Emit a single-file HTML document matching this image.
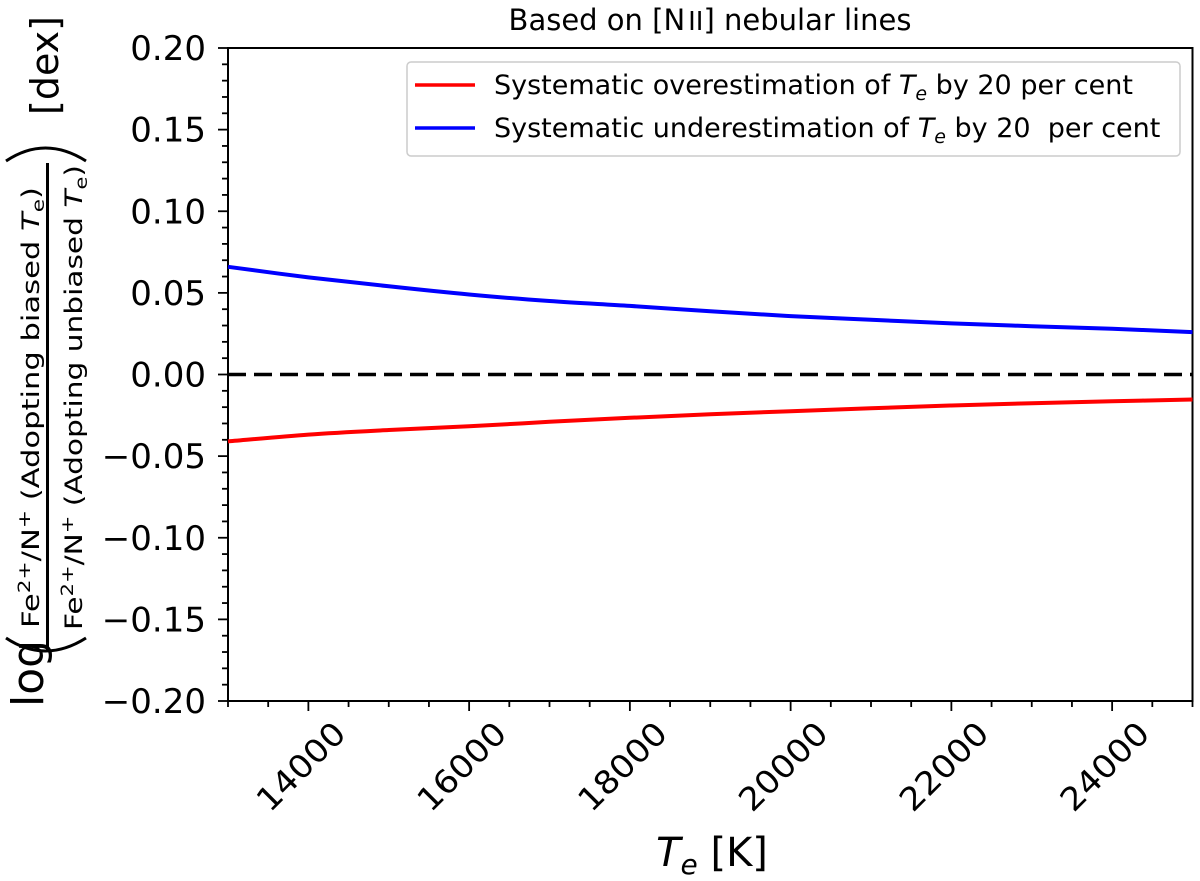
<!DOCTYPE html>
<html><head><meta charset="utf-8"><style>
html,body{margin:0;padding:0;background:#fff}
svg{display:block;font-family:"DejaVu Sans","Liberation Sans",sans-serif}
</style></head><body>
<svg id="chart" width="1200" height="881" viewBox="0 0 1200 881" xmlns="http://www.w3.org/2000/svg">
<g id="axes"></g>
<g id="series"></g>
<text x="710" y="30" font-size="29" text-anchor="middle">Based on [N<tspan font-size="26" dx="3">II</tspan>] nebular lines</text>
<text x="712" y="866" font-size="40" text-anchor="middle"><tspan font-style="italic">T</tspan><tspan font-style="italic" font-size="28" dy="8">e</tspan><tspan dy="-8"> [K]</tspan></text>
<g transform="translate(0,881) rotate(-90)">
  <text x="174" y="43" font-size="44">log</text>
  <path d="M243,6 Q217,45 243,86" fill="none" stroke="#000" stroke-width="3"/>
  <text x="253" y="39" font-size="24" textLength="441" lengthAdjust="spacingAndGlyphs">Fe<tspan font-size="17" dy="-9">2+</tspan><tspan dy="9">/N</tspan><tspan font-size="17" dy="-9">+</tspan><tspan dy="9"> (Adopting biased </tspan><tspan font-style="italic">T</tspan><tspan font-size="17" dy="5">e</tspan><tspan dy="-5">)</tspan></text>
  <line x1="231" y1="47.5" x2="718" y2="47.5" stroke="#000" stroke-width="3"/>
  <text x="251" y="82" font-size="24" textLength="465" lengthAdjust="spacingAndGlyphs">Fe<tspan font-size="17" dy="-9">2+</tspan><tspan dy="9">/N</tspan><tspan font-size="17" dy="-9">+</tspan><tspan dy="9"> (Adopting unbiased </tspan><tspan font-style="italic">T</tspan><tspan font-size="17" dy="5">e</tspan><tspan dy="-5">)</tspan></text>
  <path d="M720,6 Q746,45 720,86" fill="none" stroke="#000" stroke-width="3"/>
  <text x="766" y="58" font-size="38">[dex]</text>
</g>
<g>
  <rect x="407" y="62" width="773" height="94" rx="4" fill="#fff" stroke="#ccc" stroke-width="1.5"/>
  <line x1="415" y1="85" x2="475" y2="85" stroke="#ff0000" stroke-width="3.5"/>
  <text x="494" y="94" font-size="27">Systematic overestimation of <tspan font-style="italic">T</tspan><tspan font-style="italic" font-size="19" dy="6">e</tspan><tspan dy="-6"> by 20 per cent</tspan></text>
  <line x1="415" y1="128" x2="475" y2="128" stroke="#0000ff" stroke-width="3.5"/>
  <text x="494" y="137" font-size="27">Systematic underestimation of <tspan font-style="italic">T</tspan><tspan font-style="italic" font-size="19" dy="6">e</tspan><tspan dy="-6"> by 20&#160; per cent</tspan></text>
</g>
</svg>
<script>
const temps = [13000, 14000, 15000, 16000, 17000, 18000, 19000, 20000, 21000, 22000, 23000, 24000, 25000];
const overValues = [-0.041, -0.0368, -0.034, -0.0317, -0.029, -0.0265, -0.0244, -0.0225, -0.0207, -0.019, -0.0176, -0.0164, -0.0153];
const underValues = [0.066, 0.0595, 0.054, 0.049, 0.045, 0.042, 0.0387, 0.0358, 0.0335, 0.0313, 0.0296, 0.028, 0.026];
const xTicks = [14000, 16000, 18000, 20000, 22000, 24000];
const yTicks = [-0.20, -0.15, -0.10, -0.05, 0.00, 0.05, 0.10, 0.15, 0.20];
const xMin = 13000, xMax = 25000, yMin = -0.2, yMax = 0.2;
const L = 228, R = 1192.5, T = 48, B = 701;
const sx = v => L + (v - xMin) / (xMax - xMin) * (R - L);
const sy = v => B - (v - yMin) / (yMax - yMin) * (B - T);
const NS = 'http://www.w3.org/2000/svg';
const axes = document.getElementById('axes');
const series = document.getElementById('series');
function mk(tag, attrs, parent) {
  const e = document.createElementNS(NS, tag);
  for (const k in attrs) e.setAttribute(k, attrs[k]);
  parent.appendChild(e);
  return e;
}
const zl = mk('line', {x1: L, x2: R, y1: sy(0), y2: sy(0), stroke: '#000', 'stroke-width': 3.5, 'stroke-dasharray': '18 8'}, series);


function drawLine(vals, color, name) {
  const P = temps.map((t, i) => [sx(t), sy(vals[i])]);
  let d = 'M' + P[0][0].toFixed(1) + ',' + P[0][1].toFixed(1);
  for (let i = 0; i < P.length - 1; i++) {
    const p0 = P[Math.max(0, i - 1)], p1 = P[i], p2 = P[i + 1], p3 = P[Math.min(P.length - 1, i + 2)];
    const c1 = [p1[0] + (p2[0] - p0[0]) / 6, p1[1] + (p2[1] - p0[1]) / 6];
    const c2 = [p2[0] - (p3[0] - p1[0]) / 6, p2[1] - (p3[1] - p1[1]) / 6];
    d += ' C' + c1.map(n => n.toFixed(1)).join(',') + ' ' + c2.map(n => n.toFixed(1)).join(',') + ' ' + p2.map(n => n.toFixed(1)).join(',');
  }
  const p = mk('path', {d: d, fill: 'none', stroke: color, 'stroke-width': 4}, series);
  
  
}
drawLine(overValues, '#ff0000', 'overestimation-line');
drawLine(underValues, '#0000ff', 'underestimation-line');
const fr = mk('rect', {x: L, y: T, width: R - L, height: B - T, fill: 'none', stroke: '#000', 'stroke-width': 2}, axes);


for (let v = xMin; v <= xMax; v += 500) {
  const major = v % 2000 === 0;
  const t = mk('line', {x1: sx(v), x2: sx(v), y1: B, y2: B + (major ? 10 : 6), stroke: '#000', 'stroke-width': 1.8}, axes);
  
  
}
for (let i = 0; i <= 40; i++) {
  const v = yMin + i * 0.01;
  const major = i % 5 === 0;
  const t = mk('line', {x1: L - (major ? 10 : 6), x2: L, y1: sy(v), y2: sy(v), stroke: '#000', 'stroke-width': 1.8}, axes);
  
  
}
xTicks.forEach(v => {
  const x = sx(v) - 6, y = 768;
  const t = mk('text', {x: x, y: y, 'font-size': 32, 'text-anchor': 'middle', 'dominant-baseline': 'middle', textLength: 110, lengthAdjust: 'spacingAndGlyphs', transform: `rotate(-45 ${x} ${y})`}, axes);
  t.textContent = String(v);
  
  
});
yTicks.forEach(v => {
  const t = mk('text', {x: 206, y: sy(v) + 12, 'font-size': 34, 'text-anchor': 'end'}, axes);
  t.textContent = (v < 0 ? '\u2212' : '') + Math.abs(v).toFixed(2);
  
  
});
</script>
</body></html>
